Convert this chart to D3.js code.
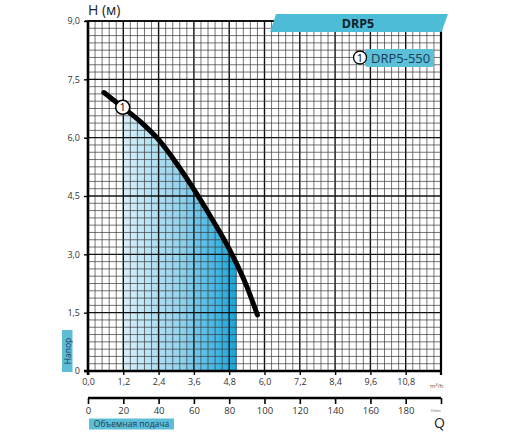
<!DOCTYPE html>
<html><head><meta charset="utf-8">
<script src="https://cdn.jsdelivr.net/npm/d3@7/dist/d3.min.js"></script>
<style>body{margin:0;background:#fff}svg{display:block;font-family:"Open Sans",sans-serif}</style>
</head><body><svg id="c" width="512" height="438"></svg>
<script>
const curveQ = [0.54, 1.18, 1.8, 2.4, 3.0, 3.6, 4.2, 4.8, 5.4, 5.76];
const curveH = [7.16, 6.78, 6.40, 5.95, 5.35, 4.67, 3.93, 3.14, 2.17, 1.44];
const xTicks = [0, 1.2, 2.4, 3.6, 4.8, 6.0, 7.2, 8.4, 9.6, 10.8];
const xTickLabels = ["0,0","1,2","2,4","3,6","4,8","6,0","7,2","8,4","9,6","10,8"];
const yTicks = [0, 1.5, 3.0, 4.5, 6.0, 7.5, 9.0];
const yTickLabels = ["0","1,5","3,0","4,5","6,0","7,5","9,0"];
const lminTicks = [0,20,40,60,80,100,120,140,160,180,200];
const lminLabels = ["0","20","40","60","80","100","120","140","160","180",""];
const workRange = [1.2, 5.05];
const seriesName = "DRP5-550";
const title = "DRP5";

const svg = d3.select("#c");
const x = d3.scaleLinear().domain([0,12]).range([88,441]);
const y = d3.scaleLinear().domain([0,9]).range([371,21]);
const xl = d3.scaleLinear().domain([0,200]).range([88,441]);

const defs = svg.append("defs");
const grad = defs.append("linearGradient").attr("id","g").attr("gradientUnits","userSpaceOnUse")
  .attr("x1",x(workRange[0])).attr("x2",x(workRange[1])).attr("y1",0).attr("y2",0);
grad.append("stop").attr("offset","0").attr("stop-color","#d8f0fa");
grad.append("stop").attr("offset","0.5").attr("stop-color","#94d3ee");
grad.append("stop").attr("offset","1").attr("stop-color","#15a6db");
defs.append("clipPath").attr("id","wc").append("rect")
  .attr("x",x(workRange[0])).attr("y",y(9)).attr("width",x(workRange[1])-x(workRange[0])).attr("height",y(0)-y(9));

const pts = curveQ.map((q,i)=>[q,curveH[i]]);
const crv = d3.curveMonotoneX;
svg.append("path").datum(pts).attr("clip-path","url(#wc)")
  .attr("d", d3.area().x(d=>x(d[0])).y0(y(0)).y1(d=>y(d[1])).curve(crv))
  .attr("fill","url(#g)");

// grid
const g = svg.append("g");
for (let i=0;i<=50;i++){
  const v=i*0.24; const major = i%5===0;
  g.append("line").attr("x1",x(v)).attr("x2",x(v)).attr("y1",y(0)).attr("y2",y(9))
   .attr("stroke", major?"#111":"#3a3a3a").attr("stroke-width", major?1.4:0.7);
}
for (let i=0;i<=48;i++){
  const v=i*0.1875; const major = i%8===0;
  g.append("line").attr("x1",x(0)).attr("x2",x(12)).attr("y1",y(v)).attr("y2",y(v))
   .attr("stroke", major?"#111":"#3a3a3a").attr("stroke-width", major?1.4:0.7);
}
// borders
svg.append("line").attr("x1",x(0)).attr("x2",x(0)).attr("y1",y(9)).attr("y2",y(0)+4).attr("stroke","#000").attr("stroke-width",2.6);
svg.append("line").attr("x1",x(12)).attr("x2",x(12)).attr("y1",y(9)).attr("y2",y(0)+4).attr("stroke","#000").attr("stroke-width",2.2);
svg.append("line").attr("x1",x(0)-4).attr("x2",x(12)+1).attr("y1",y(0)).attr("y2",y(0)).attr("stroke","#000").attr("stroke-width",2.6);
svg.append("line").attr("x1",x(0)-3).attr("x2",x(12)).attr("y1",y(9)).attr("y2",y(9)).attr("stroke","#000").attr("stroke-width",1.6);

// x axis m3/h
const xa = svg.append("g").attr("transform",`translate(0,${y(0)})`)
  .call(d3.axisBottom(x).tickValues(xTicks).tickFormat((d,i)=>xTickLabels[i]).tickSize(4).tickPadding(4));
xa.select(".domain").remove();
xa.selectAll("line").attr("stroke","#000").attr("stroke-width",1.4);
xa.selectAll("text").attr("font-size",9).attr("fill","#333").attr("font-family","Open Sans");
// y axis
const ya = svg.append("g").attr("transform",`translate(${x(0)},0)`)
  .call(d3.axisLeft(y).tickValues(yTicks).tickFormat((d,i)=>yTickLabels[i]).tickSize(4).tickPadding(4));
ya.select(".domain").remove();
ya.selectAll("line").attr("stroke","#000").attr("stroke-width",1.4);
ya.selectAll("text").attr("font-size",9).attr("fill","#333").attr("font-family","Open Sans");
// l/min axis
const la = svg.append("g").attr("transform",`translate(0,398)`)
  .call(d3.axisBottom(xl).tickValues(lminTicks).tickFormat((d,i)=>lminLabels[i]).tickSize(6).tickPadding(3));
la.select(".domain").attr("stroke","#000").attr("stroke-width",2.6).attr("d",`M${xl(0)},0H${xl(200)}`);
la.selectAll("line").attr("stroke","#000").attr("stroke-width",1.6);
la.selectAll("text").attr("font-size",9.5).attr("fill","#333").attr("font-family","Open Sans");

// curve
svg.append("path").datum(pts)
  .attr("d", d3.line().x(d=>x(d[0])).y(d=>y(d[1])).curve(crv))
  .attr("fill","none").attr("stroke","#000").attr("stroke-width",5).attr("stroke-linecap","round");
// marker 1
svg.append("circle").attr("cx",x(curveQ[1])).attr("cy",y(curveH[1])).attr("r",7)
  .attr("fill","#fff").attr("stroke","#000").attr("stroke-width",1.5);
svg.append("text").attr("x",x(curveQ[1])).attr("y",y(curveH[1])+4).attr("text-anchor","middle")
  .attr("font-size",11).attr("fill","#000").text("1");

// title banner
svg.append("path").attr("d","M276,14 L448,14 L441.5,32 L270,32 Z").attr("fill","#4dbcd6");
svg.append("text").attr("x",358).attr("y",28).attr("text-anchor","middle").attr("font-size",12.5)
  .attr("font-weight","bold").attr("fill","#13202c").text(title);

// legend
svg.append("rect").attr("x",365).attr("y",49).attr("width",69).attr("height",18).attr("rx",3)
  .attr("fill","#5cc0d8");
svg.append("circle").attr("cx",360).attr("cy",57.5).attr("r",6.5).attr("fill","#fff").attr("stroke","#000").attr("stroke-width",1.3);
svg.append("text").attr("x",360).attr("y",61.5).attr("text-anchor","middle").attr("font-size",11).text("1");
svg.append("text").attr("x",371).attr("y",62.5).attr("font-size",13).attr("fill","#1b3a57").text(seriesName);

// axis titles
svg.append("text").attr("x",88).attr("y",15).attr("font-size",14).attr("fill","#222").text("H (м)");
svg.append("rect").attr("x",62).attr("y",330).attr("width",10.5).attr("height",42).attr("fill","#5cbdd6");
svg.append("text").attr("transform","translate(70.5,351) rotate(-90)").attr("text-anchor","middle")
  .attr("font-size",8.5).attr("fill","#1e3d5a").text("Напор");
svg.append("rect").attr("x",89).attr("y",418.5).attr("width",85).attr("height",11).attr("fill","#5cbdd6");
svg.append("text").attr("x",131.5).attr("y",427).attr("text-anchor","middle")
  .attr("font-size",8.5).attr("fill","#1e3d5a").text("Объемная подача");
svg.append("text").attr("x",430).attr("y",388).attr("font-size",6).attr("fill","#555").text("m³/h");
svg.append("text").attr("x",431).attr("y",412).attr("font-size",4).attr("fill","#555").text("l/min");
svg.append("text").attr("x",434).attr("y",428).attr("font-size",14).attr("fill","#222").text("Q");
</script></body></html>
